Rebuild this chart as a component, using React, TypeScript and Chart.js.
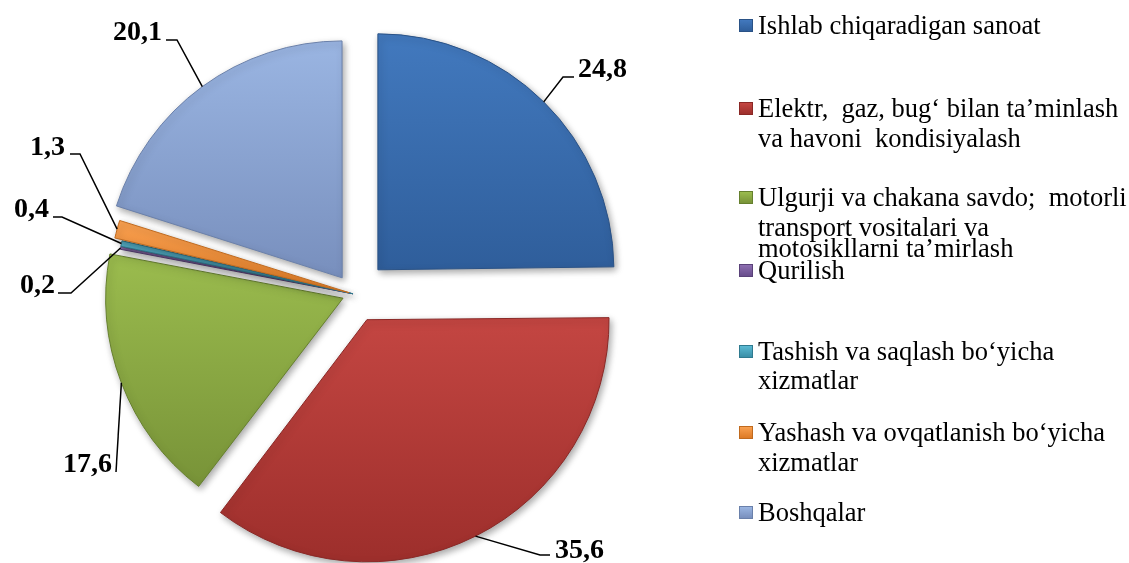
import React, { useEffect, useRef } from "react";
import { Chart, registerables } from "chart.js";

Chart.register(...registerables);

// ---- data ----
const categories = [
  "Ishlab chiqaradigan sanoat",
  "Elektr,  gaz, bug‘ bilan ta’minlash\nva havoni  kondisiyalash",
  "Ulgurji va chakana savdo;  motorli\ntransport vositalari va\nmotosikllarni ta’mirlash",
  "Qurilish",
  "Tashish va saqlash bo‘yicha\nxizmatlar",
  "Yashash va ovqatlanish bo‘yicha\nxizmatlar",
  "Boshqalar",
];
const shares = [24.8, 35.6, 17.6, 0.2, 0.4, 1.3, 20.1];

// ---- styling ----
const explode = [136, 115, 47, 4, 4, 20, 80];
const lightColors = ["#4279BE", "#C44642", "#9BBC4E", "#8D6EB0", "#5BBAD3", "#F9A050", "#9AB5E2"];
const darkColors = ["#2F5E9B", "#9E2F2C", "#789338", "#684D8C", "#3A8FA7", "#DD7A24", "#788FBD"];
const edgeColors = ["#2A5286", "#8A2826", "#66802E", "#5A4279", "#2F7A8F", "#C06A1E", "#6A80AA"];

const PIE_RADIUS = 236;
const LABEL_FONT = "bold 28px 'Liberation Serif', 'Times New Roman', serif";
const labelLayout = [
  { elbow: [563, 77], end: [574, 77], text: [578, 77], align: "left" },
  { elbow: [540, 555], end: [550, 555], text: [555, 558], align: "left" },
  { elbow: [116, 472], end: [116, 472], text: [112, 472], align: "right" },
  { elbow: [71, 293], end: [58, 293], text: [55, 293], align: "right" },
  { elbow: [62, 217], end: [53, 217], text: [49, 217], align: "right" },
  { elbow: [80, 154], end: [70, 154], text: [65, 155], align: "right" },
  { elbow: [177, 40], end: [166, 40], text: [162, 40], align: "right" },
];
const legendLineY = [[25], [108, 138], [197, 227, 248], [270], [351, 380], [432, 462], [512]];
const LEGEND_FS = 26.5;

function sliceYExtent(i: number, ca: any) {
  const cy = (ca.top + ca.bottom) / 2;
  const total = shares.reduce((a, b) => a + b, 0);
  let cum = 0;
  for (let k = 0; k < i; k++) cum += shares[k];
  const a0 = -Math.PI / 2 + (2 * Math.PI * cum) / total;
  const a1 = a0 + (2 * Math.PI * shares[i]) / total;
  let minY = cy, maxY = cy;
  for (let s = 0; s <= 40; s++) {
    const a = a0 + ((a1 - a0) * s) / 40;
    const y = cy + Math.sin(a) * PIE_RADIUS;
    minY = Math.min(minY, y);
    maxY = Math.max(maxY, y);
  }
  if (maxY - minY < 4) { minY -= 2; maxY += 2; }
  return [minY, maxY];
}

const piePlugin = {
  id: "pieDecor",
  beforeDatasetsDraw(chart: any) {
    const c = chart.ctx;
    c.save();
    c.shadowColor = "rgba(0,0,0,0.35)";
    c.shadowBlur = 7;
    c.shadowOffsetX = 2;
    c.shadowOffsetY = 3;
  },
  afterDatasetsDraw(chart: any) {
    const c = chart.ctx;
    c.restore();
    const meta = chart.getDatasetMeta(0);
    c.save();
    c.strokeStyle = "#000";
    c.lineWidth = 1.5;
    c.fillStyle = "#000";
    c.font = LABEL_FONT;
    c.textBaseline = "alphabetic";
    meta.data.forEach((arc: any, i: number) => {
      const p = arc.getProps(["x", "y", "startAngle", "endAngle", "outerRadius", "circumference"], true);
      const off = (arc.options.offset || 0) / 4;
      const fix = 1 - Math.sin(Math.min(Math.PI, p.circumference || 0));
      const mid = (p.startAngle + p.endAngle) / 2;
      const r = p.outerRadius + off * fix + off;
      const ax = p.x + Math.cos(mid) * r;
      const ay = p.y + Math.sin(mid) * r;
      const L = labelLayout[i];
      c.beginPath();
      c.moveTo(ax, ay);
      c.lineTo(L.elbow[0], L.elbow[1]);
      c.lineTo(L.end[0], L.end[1]);
      c.stroke();
      c.textAlign = L.align as CanvasTextAlign;
      c.fillText(shares[i].toFixed(1).replace(".", ","), L.text[0], L.text[1]);
    });
    c.restore();
  },
};

export default function App() {
  const ref = useRef<HTMLCanvasElement | null>(null);
  useEffect(() => {
    document.body.style.margin = "0";
    const canvas = ref.current;
    if (!canvas) return;
    const chart = new Chart(canvas, {
      type: "pie",
      data: {
        labels: categories.map((s) => s.replace(/\n/g, " ")),
        datasets: [
          {
            data: shares,
            offset: explode,
            borderWidth: 1,
            borderColor: edgeColors,
            backgroundColor: (ctx: any) => {
              const i = ctx.dataIndex;
              const chartObj = ctx.chart;
              const ca = chartObj.chartArea;
              if (!ca || i === undefined) return lightColors[i ?? 0];
              const [y0, y1] = sliceYExtent(i, ca);
              const g = chartObj.ctx.createLinearGradient(0, y0, 0, y1);
              g.addColorStop(0, lightColors[i]);
              g.addColorStop(1, darkColors[i]);
              return g;
            },
          } as any,
        ],
      },
      options: {
        responsive: false,
        animation: false,
        radius: PIE_RADIUS,
        layout: { padding: { left: 0, right: 421, top: 25, bottom: 0 } },
        plugins: { legend: { display: false }, tooltip: { enabled: false } },
      } as any,
      plugins: [piePlugin],
    });
    return () => chart.destroy();
  }, []);

  return (
    <div style={{ position: "relative", width: 1129, height: 563, background: "#fff" }}>
      <canvas ref={ref} width={1129} height={563} style={{ position: "absolute", left: 0, top: 0, display: "block" }} />
      {categories.map((cat, i) => {
        const lines = cat.split("\n");
        const ys = legendLineY[i];
        return (
          <React.Fragment key={i}>
            <div
              style={{
                position: "absolute",
                left: 739,
                top: ys[0] - 6,
                width: 12,
                height: 11,
                border: `1px solid ${edgeColors[i]}`,
                background: `linear-gradient(180deg, ${lightColors[i]}, ${darkColors[i]})`,
              }}
            />
            {lines.map((ln, j) => (
              <div
                key={j}
                style={{
                  position: "absolute",
                  left: 758,
                  top: ys[j] - 0.5065 * LEGEND_FS,
                  font: `${LEGEND_FS}px 'Liberation Serif', 'Times New Roman', serif`,
                  lineHeight: `${LEGEND_FS}px`,
                  whiteSpace: "pre",
                  color: "#000",
                }}
              >
                {ln}
              </div>
            ))}
          </React.Fragment>
        );
      })}
    </div>
  );
}
